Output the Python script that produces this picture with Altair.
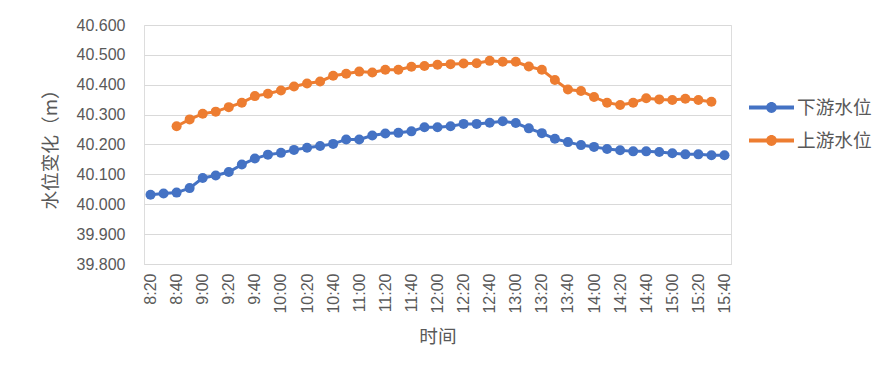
import altair as alt
import pandas as pd

times = ["8:20", "8:30", "8:40", "8:50", "9:00", "9:10", "9:20", "9:30", "9:40", "9:50",
         "10:00", "10:10", "10:20", "10:30", "10:40", "10:50", "11:00", "11:10", "11:20", "11:30",
         "11:40", "11:50", "12:00", "12:10", "12:20", "12:30", "12:40", "12:50", "13:00", "13:10",
         "13:20", "13:30", "13:40", "13:50", "14:00", "14:10", "14:20", "14:30", "14:40", "14:50",
         "15:00", "15:10", "15:20", "15:30", "15:40"]

downstream = [40.032, 40.036, 40.039, 40.054, 40.088, 40.096, 40.108, 40.133, 40.153, 40.166,
              40.172, 40.182, 40.189, 40.195, 40.202, 40.217, 40.217, 40.230, 40.237, 40.239,
              40.244, 40.258, 40.258, 40.261, 40.269, 40.269, 40.273, 40.278, 40.272, 40.254,
              40.238, 40.219, 40.208, 40.198, 40.192, 40.185, 40.181, 40.177, 40.177, 40.175,
              40.171, 40.167, 40.167, 40.164, 40.164]

upstream = [None, None, 40.261, 40.284, 40.303, 40.310, 40.325, 40.340, 40.362, 40.370,
            40.381, 40.394, 40.404, 40.411, 40.430, 40.437, 40.444, 40.441, 40.450, 40.450,
            40.460, 40.463, 40.467, 40.469, 40.471, 40.472, 40.480, 40.477, 40.477, 40.461,
            40.450, 40.416, 40.384, 40.379, 40.359, 40.340, 40.332, 40.340, 40.355, 40.351,
            40.349, 40.353, 40.349, 40.343, None]

series_names = ["下游水位", "上游水位"]
series_colors = ["#4472C4", "#ED7D31"]
y_ticks = [39.8, 39.9, 40.0, 40.1, 40.2, 40.3, 40.4, 40.5, 40.6]
x_label_values = times[::2]

rows = []
for name, vals in zip(series_names, [downstream, upstream]):
    for t, v in zip(times, vals):
        if v is not None:
            rows.append({"时间": t, "水位": v, "系列": name})
df = pd.DataFrame(rows)

legend_path = ("M-1,-0.09 L1,-0.09 L1,0.09 L-1,0.09 Z "
               "M0.24,0 A0.24,0.24 0 1,1 -0.24,0 A0.24,0.24 0 1,1 0.24,0 Z")

x_enc = alt.X("时间:O", sort=times,
              scale=alt.Scale(type="point", padding=0.5),
              axis=alt.Axis(values=x_label_values, labelAngle=270, title="时间",
                            grid=False, ticks=False, domain=True, domainColor="#D9D9D9",
                            domainWidth=1, labelPadding=9, titlePadding=14,
                            labelFontSize=16, labelColor="#595959", labelFont="Liberation Sans",
                            titleFontSize=18.67, titleColor="#595959",
                            titleFont="Noto Sans CJK SC", titleFontWeight="normal"))
y_enc = alt.Y("水位:Q", scale=alt.Scale(domain=[39.8, 40.6], nice=False, zero=False),
              axis=alt.Axis(values=y_ticks, format=".3f", title="水位变化（m）",
                            grid=True, gridColor="#D9D9D9", gridWidth=1, domain=False, ticks=False,
                            labelPadding=19, titlePadding=16,
                            labelFontSize=16, labelColor="#595959", labelFont="Liberation Sans",
                            titleFontSize=18.67, titleColor="#595959",
                            titleFont="Noto Sans CJK SC", titleFontWeight="normal"))
color_enc = alt.Color("系列:N",
                      scale=alt.Scale(domain=series_names, range=series_colors),
                      legend=alt.Legend(title=None, orient="none", legendX=605, legendY=60,
                                        symbolType=legend_path, symbolSize=2025,
                                        symbolStrokeWidth=0, labelOffset=3,
                                        labelFontSize=18.67, labelColor="#595959",
                                        labelFont="Noto Sans CJK SC", rowPadding=-12,
                                        padding=0))

base = alt.Chart(df).encode(x=x_enc, y=y_enc, color=color_enc, detail="系列:N")
lines = base.mark_line(strokeWidth=3)
points = base.mark_point(filled=True, size=100, opacity=1, shape="circle")

chart = (lines + points).properties(
    width=587, height=239,
    padding={"left": 33, "top": 9, "right": 5, "bottom": 5}
).configure_view(stroke=None).configure(background="white")

chart.save("out.html", embed_options={"renderer": "svg", "actions": False})
